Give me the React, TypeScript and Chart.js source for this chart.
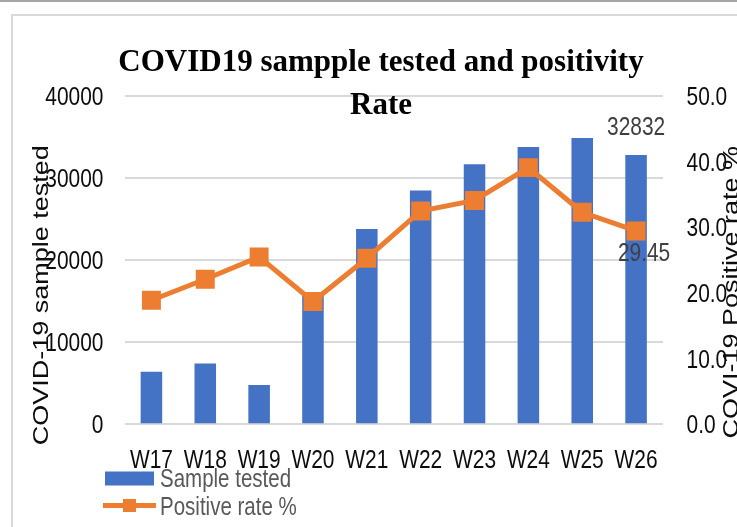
import React, { useEffect, useRef } from "react";
import { Chart, registerables } from "chart.js";

Chart.register(...registerables);

const weeks = ["W17", "W18", "W19", "W20", "W21", "W22", "W23", "W24", "W25", "W26"];
const samplesTested = [6400, 7400, 4800, 15800, 23800, 28500, 31700, 33800, 34900, 32832];
const positiveRate = [18.9, 22.1, 25.5, 18.7, 25.3, 32.5, 34.1, 39.1, 32.3, 29.45];
const leftTicks = [0, 10000, 20000, 30000, 40000];
const rightTicks = [0, 10, 20, 30, 40, 50];
const titleLines = ["COVID19 sampple tested and positivity", "Rate"];
const leftTitle = "COVID-19 sample tested";
const rightTitle = "COVI-19 Positive rate %";
const legendLabels = ["Sample tested", "Positive rate %"];

const BLUE = "#4472C4";
const ORANGE = "#ED7D31";
const SANS = "'Liberation Sans', Arial, sans-serif";
const SQ = 0.82; // horizontal compression of the text

const W = 737;
const H = 527;

function squashText(ctx: any, text: string, x: number, y: number, size: number, color: string, align: string) {
  ctx.save();
  ctx.translate(x, y);
  ctx.scale(SQ, 1);
  ctx.font = `${size}px ${SANS}`;
  ctx.fillStyle = color;
  ctx.textAlign = align;
  ctx.textBaseline = "alphabetic";
  ctx.fillText(text, 0, 0);
  ctx.restore();
}

const framePlugin = {
  id: "frame",
  beforeDraw(chart: any) {
    const ctx = chart.ctx;
    ctx.save();
    ctx.fillStyle = "#ffffff";
    ctx.fillRect(0, 0, W, H);
    ctx.fillStyle = "#a6a6a6";
    ctx.fillRect(0, 0, W, 2);
    ctx.fillStyle = "#d9d9d9";
    ctx.fillRect(11, 14, 2, H - 14);
    ctx.fillRect(11, 14, W - 11, 2);
    ctx.restore();
  },
};

const annotatePlugin = {
  id: "annotate",
  afterDatasetsDraw(chart: any) {
    const ctx = chart.ctx;
    const area = chart.chartArea;
    const { x, y, y1 } = chart.scales;
    ctx.save();

    // tick labels from the scales
    leftTicks.forEach((v) => {
      squashText(ctx, String(v), area.left - 21, y.getPixelForValue(v) + 9, 25.5, "#0d0d0d", "right");
    });
    rightTicks.forEach((v) => {
      squashText(ctx, v.toFixed(1), area.right + 23.5, y1.getPixelForValue(v) + 9, 25.5, "#0d0d0d", "left");
    });
    weeks.forEach((w, i) => {
      squashText(ctx, w, x.getPixelForValue(i), area.bottom + 44, 25.5, "#0d0d0d", "center");
    });

    // data labels
    const bar = chart.getDatasetMeta(0).data[9];
    const pt = chart.getDatasetMeta(1).data[9];
    squashText(ctx, String(samplesTested[9]), bar.x, bar.y - 20, 25.5, "#404040", "center");
    squashText(ctx, positiveRate[9].toFixed(2), pt.x + 8, pt.y + 30, 25.5, "#404040", "center");

    // axis titles (rotated, reading bottom-to-top, horizontally compressed)
    const drawRot = (text: string, x0: number, yc: number) => {
      ctx.save();
      ctx.translate(x0, yc);
      ctx.scale(SQ, 1);
      ctx.rotate(-Math.PI / 2);
      ctx.font = `27px ${SANS}`;
      ctx.fillStyle = "#0d0d0d";
      ctx.textAlign = "center";
      ctx.textBaseline = "alphabetic";
      ctx.fillText(text, 0, 0);
      ctx.restore();
    };
    const mid = (area.top + area.bottom) / 2;
    drawRot(leftTitle, 47.5, mid + 35);
    drawRot(rightTitle, 738, mid + 32);

    // legend
    const ds = chart.data.datasets;
    ctx.fillStyle = ds[0].backgroundColor;
    ctx.fillRect(105, 471.5, 49, 14);
    ctx.strokeStyle = ds[1].borderColor;
    ctx.lineWidth = 5;
    ctx.beginPath();
    ctx.moveTo(103, 505.5);
    ctx.lineTo(156, 505.5);
    ctx.stroke();
    ctx.fillStyle = ds[1].pointBackgroundColor;
    ctx.fillRect(123, 499, 13, 13);
    squashText(ctx, legendLabels[0], 160, 487, 25, "#595959", "left");
    squashText(ctx, legendLabels[1], 160, 515, 25, "#595959", "left");
    ctx.restore();
  },
};

export default function App() {
  const ref = useRef<HTMLCanvasElement | null>(null);

  useEffect(() => {
    if (!ref.current) return;
    const chart = new Chart(ref.current, {
      type: "bar",
      data: {
        labels: weeks,
        datasets: [
          {
            type: "bar",
            label: legendLabels[0],
            data: samplesTested,
            backgroundColor: BLUE,
            borderWidth: 0,
            barPercentage: 0.4,
            categoryPercentage: 1,
            yAxisID: "y",
            order: 1,
          },
          {
            type: "line",
            label: legendLabels[1],
            data: positiveRate,
            borderColor: ORANGE,
            backgroundColor: ORANGE,
            pointBackgroundColor: ORANGE,
            pointBorderWidth: 0,
            borderWidth: 5,
            pointStyle: "rect",
            pointRadius: 13.4,
            tension: 0,
            yAxisID: "y1",
            order: 0,
          } as any,
        ],
      },
      options: {
        responsive: false,
        animation: false,
        layout: { padding: { left: 25, right: 0, top: 0, bottom: 52.7 } },
        plugins: {
          legend: { display: false },
          tooltip: { enabled: false },
          title: {
            display: true,
            text: titleLines,
            color: "#000000",
            font: { family: "'Liberation Serif', 'Times New Roman', serif", weight: "bold", size: 31, lineHeight: 1.39 },
            padding: { top: 41.5, bottom: -31.6 },
          },
        },
        scales: {
          x: {
            grid: { display: false, drawTicks: false },
            border: { display: false },
            ticks: { display: false },
            afterFit: (s: any) => { s.height = 50; },
          },
          y: {
            position: "left",
            min: 0,
            max: 40000,
            grid: { color: "#d9d9d9", lineWidth: 2, drawTicks: false },
            border: { display: false },
            afterBuildTicks: (s: any) => { s.ticks = leftTicks.map((v) => ({ value: v })); },
            ticks: { display: false },
            afterFit: (s: any) => { s.width = 99.5; },
          },
          y1: {
            position: "right",
            min: 0,
            max: 50,
            grid: { display: false, drawTicks: false },
            border: { display: false },
            afterBuildTicks: (s: any) => { s.ticks = rightTicks.map((v) => ({ value: v })); },
            ticks: { display: false },
            afterFit: (s: any) => { s.width = 74; },
          },
        },
      },
      plugins: [framePlugin, annotatePlugin],
    } as any);
    return () => chart.destroy();
  }, []);

  return (
    <div style={{ position: "fixed", left: 0, top: 0, width: W, height: H, background: "#fff" }}>
      <canvas ref={ref} width={W} height={H} style={{ display: "block", width: W, height: H }} />
    </div>
  );
}
